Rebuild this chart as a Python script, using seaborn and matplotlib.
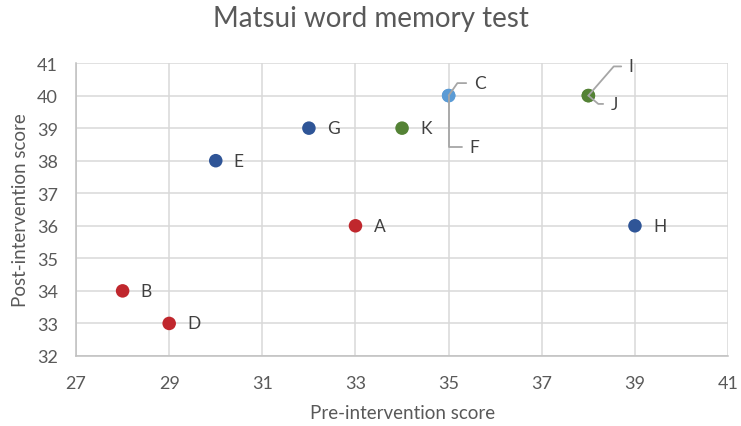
import numpy as np
import pandas as pd
import matplotlib
matplotlib.use("Agg")
import matplotlib.pyplot as plt
import seaborn as sns

# data
names = ["A", "B", "C", "D", "E", "F", "G", "H", "I", "J", "K"]
pre_scores = [33, 28, 35, 29, 30, 35, 32, 39, 38, 38, 34]
post_scores = [36, 34, 40, 33, 38, 40, 39, 36, 40, 40, 39]
groups = ["red", "red", "light", "red", "dark", "light", "dark", "dark", "green", "green", "green"]

group_colors = {
    "red": "#C0272D",
    "dark": "#2F5597",
    "light": "#5B9BD5",
    "green": "#548235",
}

x_ticks = [27, 29, 31, 33, 35, 37, 39, 41]
y_ticks = [32, 33, 34, 35, 36, 37, 38, 39, 40, 41]

# label offsets in points (x, y) plus leader line angle for crowded labels
label_offsets = {
    "C": (18, 9, 55),
    "F": (15, -37, 90),
    "I": (29, 21, 49),
    "J": (16, -6, -40),
}


def main():
    df = pd.DataFrame({
        "name": names,
        "pre": pre_scores,
        "post": post_scores,
        "group": groups,
    })

    sns.set_style("white")
    plt.rcParams["font.family"] = ["Lato", "DejaVu Sans"]

    fig = plt.figure(figsize=(7.41, 4.27), dpi=100)
    ax = fig.add_axes([0.1026, 0.164, 0.880, 0.686])

    sns.scatterplot(
        data=df,
        x="pre",
        y="post",
        hue="group",
        palette=group_colors,
        s=95,
        linewidth=0,
        legend=False,
        zorder=3,
        ax=ax
    )

    ax.set_xlim(27, 41)
    ax.set_ylim(32, 41)
    ax.set_xticks(x_ticks)
    ax.set_yticks(y_ticks)
    ax.grid(True, color="#D9D9D9", linewidth=1.1, zorder=0)
    ax.set_axisbelow(True)

    for side in ["top", "right"]:
        ax.spines[side].set_visible(False)
    for side in ["left", "bottom"]:
        ax.spines[side].set_color("#BFBFBF")
        ax.spines[side].set_linewidth(1.1)

    ax.tick_params(axis="both", length=0, labelsize=13, labelcolor="#595959")
    ax.tick_params(axis="x", pad=14)
    ax.tick_params(axis="y", pad=13)

    ax.set_xlabel("Pre-intervention score", fontsize=13.5, color="#595959", labelpad=9)
    ax.set_ylabel("Post-intervention score", fontsize=13.5, color="#595959", labelpad=6)

    for name, x, y in zip(names, pre_scores, post_scores):
        if name in label_offsets:
            dx, dy, ang = label_offsets[name]
            ax.annotate(
                name,
                xy=(x, y),
                xytext=(dx, dy),
                textcoords="offset points",
                ha="left",
                va="center",
                fontsize=12.5,
                color="#404040",
                arrowprops=dict(
                    arrowstyle="-",
                    color="#A6A6A6",
                    linewidth=1.3,
                    shrinkA=3,
                    shrinkB=0,
                    relpos=(0, 0.5),
                    connectionstyle="angle,angleA=0,angleB=%d,rad=0" % ang
                ),
                zorder=4
            )
        else:
            ax.annotate(
                name,
                xy=(x, y),
                xytext=(13, 0),
                textcoords="offset points",
                ha="left",
                va="center",
                fontsize=12.5,
                color="#404040",
                zorder=4
            )

    fig.text(
        0.5, 0.955,
        "Matsui word memory test",
        ha="center",
        va="center",
        fontsize=20,
        color="#595959"
    )

    fig.savefig("out.png", dpi=100)
    plt.close(fig)


if __name__ == "__main__":
    main()
